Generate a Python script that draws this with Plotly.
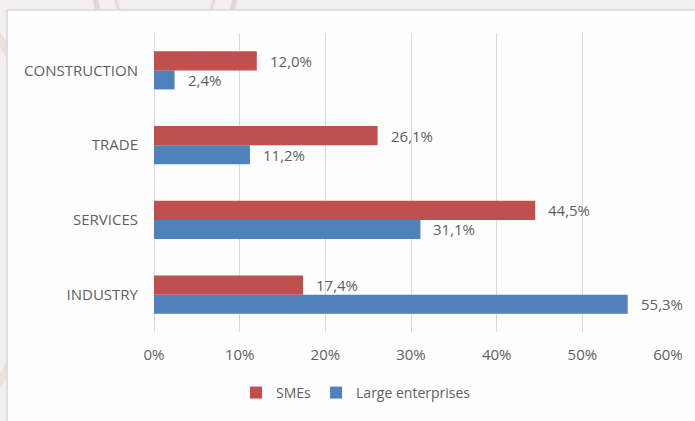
import plotly.graph_objects as go

# Share of enterprises by sector
categories = ["INDUSTRY", "SERVICES", "TRADE", "CONSTRUCTION"]
smes = [17.4, 44.5, 26.1, 12.0]
large = [55.3, 31.1, 11.2, 2.4]
x_ticks = [0, 10, 20, 30, 40, 50, 60]
x_tick_labels = ["0%", "10%", "20%", "30%", "40%", "50%", "60%"]

RED = "#C0504D"
BLUE = "#4F81BD"
GREY_TEXT = "#5f5f5f"
FONT = "Open Sans"
LABEL_SIZE = 15
PANEL_EDGE = "#f3efef"

# plot area in pixels: x 154..668, y 33..332
PW, PH = 514, 299


def pct(v):
    return f"{v:.1f}%".replace(".", ",")


def px_x(p):
    return (p - 154) / PW


def px_y(p):
    return (332 - p) / PH


fig = go.Figure()

# Large enterprises first so that SMEs sit above it within each group
fig.add_trace(go.Bar(
    y=categories, x=large, name="Large enterprises", orientation="h",
    marker=dict(color=BLUE, line=dict(width=0)), legendrank=2,
))
fig.add_trace(go.Bar(
    y=categories, x=smes, name="SMEs", orientation="h",
    marker=dict(color=RED, line=dict(width=0)), legendrank=1,
))

# Value labels to the right of each bar
annotations = []
for cat, v in zip(categories, smes):
    annotations.append(dict(x=v, y=cat, text=pct(v), showarrow=False,
                            xanchor="left", yanchor="middle", xshift=11, yshift=9.5,
                            font=dict(family=FONT, size=LABEL_SIZE, color=GREY_TEXT)))
for cat, v in zip(categories, large):
    annotations.append(dict(x=v, y=cat, text=pct(v), showarrow=False,
                            xanchor="left", yanchor="middle", xshift=11, yshift=-9.5,
                            font=dict(family=FONT, size=LABEL_SIZE, color=GREY_TEXT)))

shapes = [
    # backdrop behind the chart panel
    dict(type="rect", xref="paper", yref="paper", layer="below",
         x0=px_x(-5), x1=px_x(700), y0=px_y(426), y1=px_y(-5),
         fillcolor=PANEL_EDGE, line=dict(width=0)),
    # faint watermark arcs
    dict(type="circle", xref="paper", yref="paper", layer="below",
         x0=px_x(95), x1=px_x(235), y0=px_y(60), y1=px_y(-80),
         line=dict(color="rgba(205,110,110,0.22)", width=5)),
    dict(type="circle", xref="paper", yref="paper", layer="below",
         x0=px_x(115), x1=px_x(215), y0=px_y(40), y1=px_y(-60),
         line=dict(color="rgba(205,110,110,0.18)", width=3)),
    dict(type="circle", xref="paper", yref="paper", layer="below",
         x0=px_x(-150), x1=px_x(40), y0=px_y(420), y1=px_y(0),
         line=dict(color="rgba(205,110,110,0.12)", width=8)),
    # white chart panel, slightly see-through, with a light top/left edge
    dict(type="rect", xref="paper", yref="paper", layer="below",
         x0=px_x(7), x1=px_x(710), y0=px_y(440), y1=px_y(10),
         fillcolor="rgba(255,255,255,0.92)",
         line=dict(color="#d8d8d8", width=1.5)),
]

fig.update_layout(
    width=695, height=421,
    margin=dict(l=154, r=27, t=33, b=89),
    paper_bgcolor="white",
    plot_bgcolor="rgba(0,0,0,0)",
    barmode="group",
    bargap=0.49,
    bargroupgap=0,
    font=dict(family=FONT, size=LABEL_SIZE, color=GREY_TEXT),
    annotations=annotations,
    shapes=shapes,
    showlegend=True,
    legend=dict(orientation="h", xref="container", yref="container",
                x=356 / 695, y=1 - 393 / 421, xanchor="center", yanchor="middle",
                font=dict(family=FONT, size=14, color=GREY_TEXT),
                bgcolor="rgba(0,0,0,0)", itemwidth=30),
    xaxis=dict(range=[0, 60], tickvals=x_ticks, ticktext=x_tick_labels,
               showgrid=True, gridcolor="#d9d9d9", gridwidth=1,
               zeroline=True, zerolinecolor="#d9d9d9", zerolinewidth=1,
               showline=False, ticks="", ticklabelstandoff=12,
               tickfont=dict(family=FONT, size=LABEL_SIZE, color=GREY_TEXT),
               fixedrange=True),
    yaxis=dict(categoryorder="array", categoryarray=categories,
               showgrid=False, zeroline=False, showline=False, ticks="",
               ticklabelstandoff=15,
               tickfont=dict(family=FONT, size=LABEL_SIZE, color=GREY_TEXT),
               fixedrange=True),
)

# keep the page itself from growing scrollbars around the fixed-size figure
fig.write_html(
    "out.html",
    config={"displayModeBar": False},
    post_script="document.documentElement.style.overflow='hidden';"
                "document.body.style.overflow='hidden';"
                "document.body.style.margin='0';",
)
